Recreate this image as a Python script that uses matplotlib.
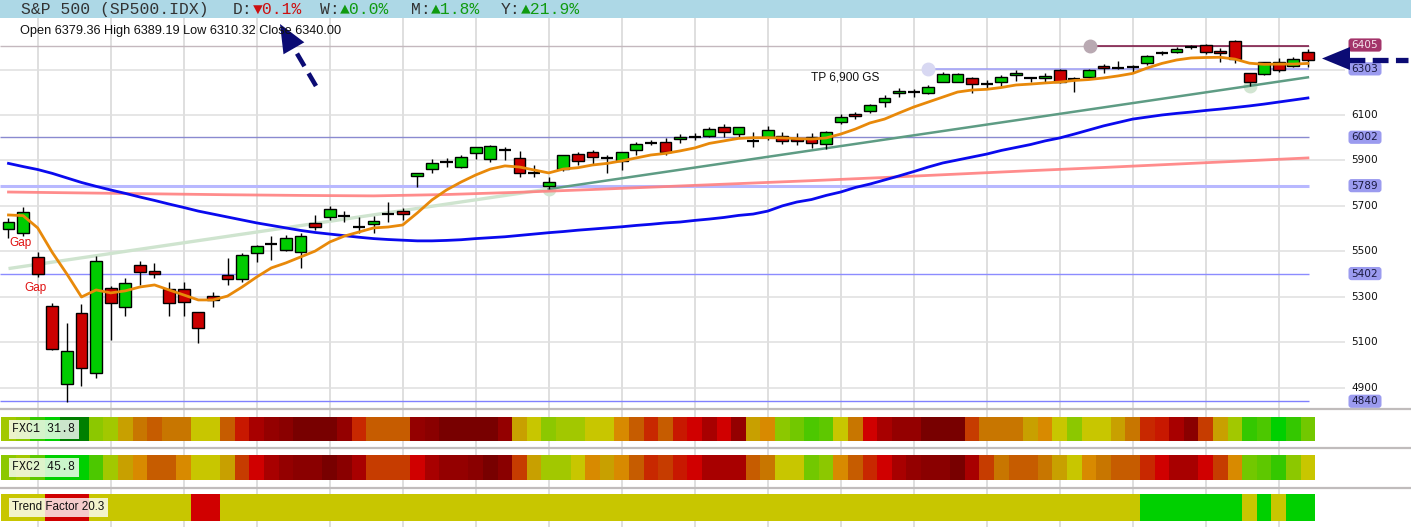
import matplotlib
matplotlib.use("Agg")
import matplotlib.pyplot as plt
from matplotlib.patches import Polygon, FancyBboxPatch, Rectangle
import numpy as np

# ---------------- data ----------------
opens = [5600, 5582, 5474, 5258, 4915, 5227, 4963, 5337, 5254, 5439,
         5413, 5336, 5332, 5232, 5303, 5394, 5380, 5491, 5532, 5506,
         5498, 5623, 5650, 5656, 5605, 5619, 5664, 5679, 5830, 5861,
         5892, 5872, 5931, 5905, 5946, 5909, 5843, 5788, 5861, 5927,
         5938, 5909, 5899, 5946, 5978, 5982, 5993, 6004, 6009, 6049,
         6016, 5986, 6004, 6009, 5994, 6004, 5971, 6071, 6103, 6116,
         6156, 6196, 6200, 6196, 6247, 6247, 6262, 6236, 6247, 6276,
         6262, 6262, 6298, 6259, 6266, 6316, 6306, 6310, 6330, 6372,
         6377, 6401, 6408, 6383, 6427, 6286, 6279, 6335, 6316, 6379.36]
highs = [5647, 5696, 5497, 5271, 5183, 5268, 5479, 5347, 5381, 5457,
         5447, 5365, 5365, 5233, 5322, 5469, 5491, 5528, 5569, 5572,
         5579, 5660, 5700, 5679, 5650, 5656, 5718, 5689, 5845, 5905,
         5909, 5924, 5959, 5968, 5960, 5943, 5880, 5828, 5924, 5938,
         5946, 5924, 5938, 5982, 5990, 6000, 6015, 6019, 6046, 6059,
         6049, 6027, 6052, 6024, 6019, 6019, 6030, 6103, 6112, 6148,
         6188, 6220, 6213, 6232, 6288, 6285, 6266, 6254, 6276, 6298,
         6269, 6284, 6301, 6269, 6301, 6323, 6339, 6320, 6364, 6382,
         6398, 6408, 6412, 6394, 6430, 6286, 6335, 6350, 6354, 6389.19]
lows = [5559, 5569, 5388, 5066, 4837, 4909, 4944, 5110, 5215, 5352,
        5381, 5215, 5215, 5098, 5254, 5352, 5366, 5454, 5462, 5501,
        5428, 5594, 5638, 5630, 5582, 5579, 5630, 5638, 5784, 5843,
        5870, 5865, 5905, 5894, 5902, 5828, 5828, 5774, 5855, 5880,
        5880, 5843, 5858, 5924, 5968, 5924, 5978, 5990, 6004, 6004,
        6004, 5960, 5990, 5972, 5968, 5953, 5950, 6059, 6082, 6107,
        6134, 6181, 6181, 6191, 6244, 6244, 6198, 6213, 6228, 6251,
        6247, 6240, 6241, 6203, 6262, 6286, 6301, 6286, 6319, 6364,
        6372, 6389, 6367, 6335, 6328, 6228, 6276, 6291, 6310, 6310.32]
closes = [5630, 5672, 5400, 5071, 5060, 4985, 5456, 5271, 5359, 5408,
          5400, 5272, 5276, 5161, 5286, 5377, 5483, 5522, 5532, 5557,
          5566, 5606, 5685, 5656, 5605, 5633, 5664, 5663, 5843, 5887,
          5892, 5917, 5958, 5964, 5946, 5846, 5843, 5804, 5924, 5898,
          5916, 5909, 5936, 5972, 5978, 5938, 6003, 6004, 6038, 6027,
          6046, 5986, 6034, 5986, 5986, 5975, 6024, 6093, 6096, 6143,
          6173, 6206, 6200, 6225, 6280, 6280, 6236, 6236, 6266, 6286,
          6262, 6272, 6247, 6259, 6298, 6306, 6306, 6310, 6360, 6372,
          6389, 6401, 6377, 6372, 6345, 6244, 6332, 6298, 6345, 6340.00]

ma_fast = [5660, 5657, 5603, 5495, 5400, 5299, 5330, 5317, 5326, 5343,
           5352, 5330, 5308, 5286, 5286, 5303, 5343, 5387, 5427, 5449,
           5475, 5501, 5541, 5567, 5585, 5603, 5607, 5616, 5669, 5726,
           5770, 5805, 5836, 5862, 5876, 5871, 5858, 5845, 5862, 5868,
           5880, 5887, 5898, 5911, 5924, 5931, 5942, 5955, 5975, 5986,
           5997, 6000, 6000, 5999, 5996, 5994, 5999, 6016, 6038, 6065,
           6082, 6109, 6135, 6157, 6179, 6201, 6210, 6213, 6221, 6232,
           6236, 6241, 6245, 6252, 6256, 6263, 6272, 6283, 6307, 6327,
           6342, 6351, 6353, 6354, 6346, 6328, 6323, 6324, 6324, 6327]
ma_mid = [5887, 5873, 5860, 5843, 5823, 5803, 5786, 5770, 5755, 5739,
          5724, 5708, 5693, 5677, 5664, 5651, 5638, 5625, 5614, 5603,
          5592, 5583, 5576, 5569, 5562, 5556, 5552, 5549, 5546, 5546,
          5548, 5551, 5556, 5560, 5564, 5570, 5576, 5582, 5587, 5593,
          5598, 5603, 5608, 5614, 5619, 5625, 5629, 5636, 5642, 5649,
          5658, 5664, 5677, 5700, 5717, 5728, 5746, 5761, 5781, 5796,
          5814, 5832, 5851, 5871, 5889, 5902, 5915, 5928, 5944, 5957,
          5970, 5986, 5999, 6016, 6034, 6052, 6067, 6082, 6091, 6100,
          6107, 6113, 6120, 6126, 6133, 6140, 6148, 6157, 6166, 6175]
ma_slow_idx = [0, 5, 10, 15, 20, 25, 30, 35, 40, 45, 50, 55, 60, 65, 70, 75, 80, 85, 89]
ma_slow = [5761, 5757, 5753, 5749, 5746, 5744, 5750, 5760, 5772, 5785,
           5798, 5811, 5825, 5840, 5855, 5869, 5884, 5899, 5911]

trend_anchor_idx = [37, 85]
trend_anchor_price = [5774, 6228]

boxed_levels = [6405, 6303, 6002, 5789, 5402, 4840]
tick_levels = [6100, 5900, 5700, 5500, 5300, 5100, 4900]
grid_levels = [4900, 5100, 5300, 5500, 5700, 5900, 6100, 6300]
week_idx = [2, 7, 12, 17, 22, 27, 32, 37, 42, 47, 52, 57, 62, 67, 72, 77, 82, 87]

instrument = "S&P 500 (SP500.IDX)"
changes = [("D", -0.1), ("W", 0.0), ("M", 1.8), ("Y", 21.9)]
ohlc_text = "Open 6379.36 High 6389.19 Low 6310.32 Close 6340.00"

fxc1 = "lkgBGGklap" "qppyyqtvwx" "zzzwsqqqwx" "zzzzwaykll" "yyoqsqtuvu" \
       "waokjhiypu" "vwwzzzrppp" "aoykyyapst" "vxralghBgj"
fxc2 = "kliBBBhlao" "qqoyyaruvw" "xxzxvrrruv" "wwxzxrally" "oaoqsrtuvv" \
       "vqpyyjkoqs" "uvwxxzvrpq" "qpayopqqsu" "vvurojigky"
trend = "yyyuuuyyyy" "yyyuuyyyyy" "yyyyyyyyyy" "yyyyyyyyyy" "yyyyyyyyyy" \
        "yyyyyyyyyy" "yyyyyyyyyy" "yyyyyyyyBB" "BBBBByByBB"
strip_labels = ["FXC1 31.8", "FXC2 45.8", "Trend Factor 20.3"]

pal = {'G': '#007f00', 'B': '#00d000', 'g': '#34c800', 'h': '#4cc800', 'i': '#5ec800',
       'j': '#72c800', 'k': '#8cc800', 'l': '#a2c800', 'y': '#c8c600', 'a': '#c8a000',
       'o': '#d88a00', 'p': '#c87600', 'q': '#c65c00', 'r': '#c63c00', 's': '#c82800',
       't': '#c81800', 'u': '#d00000', 'v': '#a80000', 'w': '#940000', 'x': '#8a0000',
       'z': '#780000'}

# ---------------- layout ----------------
W, H = 1411, 527
fig = plt.figure(figsize=(W / 100, H / 100), dpi=100)
fig.patch.set_facecolor('white')

def fy(p):
    return 1 - p / H

n = len(closes)
idx = np.arange(n)
X0, X1 = -0.582, 91.54
Y0, Y1 = 4810.4, 6526.9
AXW = 1345 / W
XEND = 89.1

ax = fig.add_axes([0, fy(408), AXW, 390 / H])
ax.set_xlim(X0, X1)
ax.set_ylim(Y0, Y1)
ax.axis('off')

for g in grid_levels:
    ax.axhline(g, color='#dfdfdf', lw=1.1, zorder=0)
for v in week_idx:
    ax.axvline(v, color='#dfdfdf', lw=1.4, zorder=0)

# horizontal level lines
ax.hlines(6405, X0, XEND, color='#c4b8be', lw=1.0, zorder=1)
ax.hlines(6405, 74.1, XEND, color='#7a1040', lw=1.1, zorder=1.2)
ax.hlines(6303, 63, XEND, color='#9a9af5', lw=1.1, zorder=1)
ax.hlines(6002, X0, XEND, color='#8a8ad0', lw=1.0, zorder=1)
ax.hlines(5789, X0, XEND, color='#b8b8ff', lw=2.2, zorder=1)
ax.hlines(5402, X0, XEND, color='#8c8cff', lw=1.0, zorder=1)
ax.hlines(4840, X0, XEND, color='#8080ff', lw=1.0, zorder=1)

# anchor markers
ax.plot([63], [6303], 'o', ms=9, color='#d8d8f2', zorder=1.5)
ax.plot([74.1], [6405], 'o', ms=9, color='#b9a9b2', zorder=1.5)

# trend line
tslope = (trend_anchor_price[1] - trend_anchor_price[0]) / (trend_anchor_idx[1] - trend_anchor_idx[0])
t_left = np.array([0, trend_anchor_idx[0]])
t_right = np.array([trend_anchor_idx[0], n - 1])
ax.plot(t_left, trend_anchor_price[0] + tslope * (t_left - trend_anchor_idx[0]),
        color='#cfe4cf', lw=2.4, zorder=1.6, solid_capstyle='butt')
ax.plot(t_right, trend_anchor_price[0] + tslope * (t_right - trend_anchor_idx[0]),
        color='#5e9c84', lw=1.8, zorder=1.6)
ax.plot(trend_anchor_idx, trend_anchor_price, 'o', ms=9, color='#d2e5d2', zorder=1.55)

# moving averages
ax.plot(ma_slow_idx, ma_slow, color='#ff8080', lw=2.0, alpha=0.9, zorder=5)
ax.plot(idx, ma_mid, color='#0a0aee', lw=2.0, zorder=5)

# candles
o = np.array(opens, float); c = np.array(closes, float)
hi = np.array(highs, float); lo = np.array(lows, float)
ax.vlines(idx, lo, hi, color='black', lw=1.0, zorder=3)
doji = np.abs(c - o) < 3
body = ~doji
cols = np.where(c > o, '#00cc00', '#cc0000')
ax.bar(idx[body], np.abs(c - o)[body], bottom=np.minimum(o, c)[body], width=0.82,
       color=cols[body], edgecolor='black', linewidth=1.0, zorder=4)
ax.hlines(o[doji], idx[doji] - 0.42, idx[doji] + 0.42, color='black', lw=1.6, zorder=4)

ax.plot(idx, ma_fast, color='#e8890a', lw=2.0, zorder=6)

# annotations
ax.text(0.85, 5537, "Gap", color='#e01010', fontsize=8.5, family='Liberation Sans',
        ha='center', va='center', zorder=7)
ax.text(1.85, 5339, "Gap", color='#e01010', fontsize=8.5, family='Liberation Sans',
        ha='center', va='center', zorder=7)
ax.text(54.95, 6267, "TP 6,900 GS", color='#111111', fontsize=8.6, family='Liberation Sans',
        ha='left', va='center', zorder=7)

# ---------------- strips ----------------
axb = fig.add_axes([0, 0, AXW, 119 / H], zorder=0)
axb.set_xlim(X0, X1)
axb.set_ylim(0, 1)
axb.axis('off')
for v in week_idx:
    axb.axvline(v, color='#dfdfdf', lw=1.4)

strip_rows = [(417, 441, fxc1), (455, 480, fxc2), (494, 521, trend)]
for k, (top, bot, codes) in enumerate(strip_rows):
    a = fig.add_axes([0, fy(bot), AXW, (bot - top) / H], zorder=1)
    a.set_xlim(X0, X1)
    a.set_ylim(0, 1)
    a.axis('off')
    a.bar(idx, 1, width=1.0, bottom=0, color=[pal[ch] for ch in codes],
          linewidth=0, antialiased=False)
    fam = ['Liberation Mono', 'DejaVu Sans Mono'] if k < 2 else ['Liberation Sans']
    a.text(12 / 1345, 0.5, strip_labels[k], transform=a.transAxes, ha='left', va='center',
           fontsize=8.4, family=fam, color='#111111',
           bbox=dict(boxstyle='square,pad=0.3', fc='white', ec='none', alpha=0.8))

# ---------------- overlay (header, labels, arrows) ----------------
ov = fig.add_axes([0, 0, 1, 1], zorder=20)
ov.set_xlim(0, W)
ov.set_ylim(H, 0)
ov.axis('off')
ov.patch.set_visible(False)

ov.add_patch(Rectangle((0, 0), W, 18, fc='#add8e6', ec='none'))
for ysep in (409, 448, 488):
    ov.plot([0, W], [ysep, ysep], color='#c0bcbc', lw=1.6)

mono = ['Liberation Mono', 'DejaVu Sans Mono', 'DejaVu Sans']
ov.text(21, 9.5, instrument, fontsize=11.8, family=mono, color='#333333', ha='left', va='center')
hx = [(233, 252.7), (320.5, 340.2), (411, 430.7), (501, 520.7)]
for (lab, val), (x1, x2) in zip(changes, hx):
    ov.text(x1, 9.5, lab + ":", fontsize=11.8, family=mono, color='#333333', ha='left', va='center')
    if val < 0:
        s, col = "\u25bc%.1f%%" % abs(val), '#cc1010'
    else:
        s, col = "\u25b2%.1f%%" % val, '#109a10'
    ov.text(x2, 9.5, s, fontsize=11.8, family=mono, color=col, ha='left', va='center')

ov.text(20, 31, ohlc_text, fontsize=9.2, family='Liberation Sans', color='#111111',
        ha='left', va='center')

# right price labels
fig.canvas.draw()
def level_y(p):
    return H - ax.transData.transform((0, p))[1]

for p in tick_levels:
    ov.text(1365, level_y(p), str(p), fontsize=7.6, family='DejaVu Sans', color='#111111',
            ha='center', va='center')
for p in boxed_levels:
    y = level_y(p)
    if p == 6405:
        fc, tc = '#a3346a', '#f4e4ec'
        y = level_y(6408)
    else:
        fc, tc = '#9b9bef', '#1a1a40'
    ov.add_patch(FancyBboxPatch((1348.5, y - 6.6), 33, 13.2,
                                boxstyle='round,pad=0,rounding_size=3', fc=fc, ec='none'))
    ov.text(1365, y, str(p), fontsize=7.6, family='DejaVu Sans', color=tc,
            ha='center', va='center')

# navy dashed arrows
navy = '#0b0b74'
ov.plot([316, 292], [86, 45], color=navy, lw=3.3, linestyle=(0, (3.2, 1.8)), solid_capstyle='butt')
ov.add_patch(Polygon([(280, 24), (304.3, 42.3), (283.5, 54.3)], closed=True, fc=navy, ec='none'))
ov.plot([1349, 1408], [60, 60], color=navy, lw=3.8, linestyle=(0, (3.0, 1.4)), solid_capstyle='butt')
ov.add_patch(Polygon([(1322, 58.5), (1350, 47), (1350, 70)], closed=True, fc=navy, ec='none'))

fig.savefig('out.png', dpi=100)
